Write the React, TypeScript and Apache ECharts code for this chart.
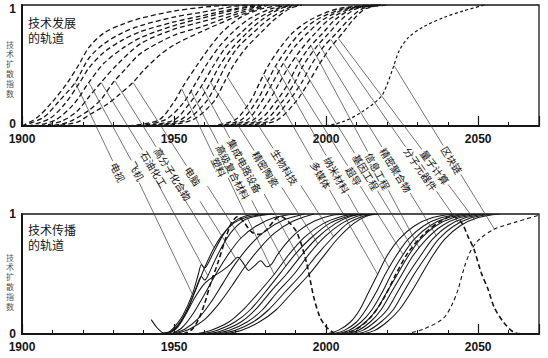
import { useEffect, useRef } from 'react';
import * as echarts from 'echarts';

type Pt = [number, number];

// ---------- axes ----------
const YEAR_MIN = 1900;
const YEAR_MAX = 2070;
const YEAR_LABELS = [1900, 1950, 2000, 2050];
const INDEX_LABELS = [0, 1];
const Y_NAME = ['技', '术', '扩', '散', '指', '数'];
const TOP_TITLE = ['技术发展', '的轨道'];
const BOTTOM_TITLE = ['技术传播', '的轨道'];

// ---------- 技术发展的轨道 (top, dashed) : [year, index] ----------
const devE1: Pt[] = [[1900, 0], [1905, 0.07], [1910, 0.2], [1915, 0.36], [1919, 0.52], [1922, 0.65], [1927, 0.77], [1933, 0.84], [1939, 0.89], [1950, 0.95], [1959, 0.98], [1968, 1]];
const devE2: Pt[] = [[1900, 0], [1907, 0.07], [1912, 0.2], [1917.5, 0.36], [1922, 0.56], [1927, 0.68], [1933, 0.77], [1939, 0.83], [1950, 0.9], [1959, 0.94], [1970, 0.99], [1976, 1]];
const devE3: Pt[] = [[1902, 0], [1909, 0.06], [1914, 0.18], [1919, 0.36], [1922, 0.48], [1927, 0.61], [1933, 0.71], [1939, 0.78], [1950, 0.86], [1959, 0.91], [1970, 0.97], [1978, 1]];
const devE4: Pt[] = [[1904, 0], [1911, 0.05], [1917, 0.18], [1922, 0.36], [1927, 0.52], [1933, 0.64], [1939, 0.73], [1950, 0.83], [1959, 0.89], [1970, 0.96], [1978, 1]];
const devE5: Pt[] = [[1906, 0], [1913, 0.04], [1918, 0.12], [1922, 0.24], [1926, 0.36], [1931, 0.5], [1939, 0.68], [1950, 0.8], [1959, 0.86], [1970, 0.94], [1979, 1]];
const devE6: Pt[] = [[1908, 0], [1915, 0.03], [1922, 0.13], [1926, 0.22], [1930, 0.36], [1934, 0.47], [1939, 0.6], [1950, 0.75], [1959, 0.82], [1970, 0.92], [1980, 1]];
const devE7: Pt[] = [[1910, 0], [1918, 0.03], [1922, 0.09], [1928, 0.18], [1932, 0.26], [1936.5, 0.36], [1940, 0.46], [1945, 0.58], [1950, 0.67], [1959, 0.78], [1970, 0.9], [1981, 1]];
const devM1: Pt[] = [[1935, 0], [1945, 0.05], [1950, 0.2], [1953, 0.33], [1957.5, 0.5], [1962, 0.66], [1966, 0.78], [1972, 0.9], [1979, 0.97], [1986, 1]];
const devM2: Pt[] = [[1938, 0], [1947, 0.05], [1953, 0.19], [1957, 0.35], [1960.5, 0.5], [1965, 0.66], [1969.5, 0.78], [1975, 0.89], [1982, 0.97], [1988, 1]];
const devM3: Pt[] = [[1940, 0], [1950, 0.05], [1955.5, 0.2], [1959.5, 0.35], [1963, 0.5], [1967, 0.65], [1972, 0.77], [1977, 0.88], [1984, 0.97], [1989, 1]];
const devM4: Pt[] = [[1942, 0], [1952, 0.05], [1958, 0.2], [1962, 0.36], [1965, 0.5], [1969, 0.64], [1974, 0.77], [1979, 0.88], [1985, 0.97], [1990, 1]];
const devM5: Pt[] = [[1944, 0], [1954, 0.05], [1960.5, 0.2], [1964, 0.35], [1967, 0.5], [1971, 0.65], [1976, 0.77], [1981, 0.88], [1987, 0.97], [1991, 1]];
const devM6: Pt[] = [[1946, 0], [1956, 0.05], [1963, 0.2], [1966.5, 0.36], [1969.5, 0.5], [1973.5, 0.64], [1978.5, 0.77], [1983, 0.88], [1988, 0.97], [1992, 1]];
const devL1: Pt[] = [[1962, 0], [1970, 0.05], [1975, 0.2], [1978, 0.35], [1981, 0.5], [1985, 0.65], [1989, 0.77], [1995, 0.88], [2004, 0.97], [2015, 1]];
const devL2: Pt[] = [[1964, 0], [1972, 0.05], [1977, 0.2], [1980.5, 0.36], [1983.5, 0.5], [1987.5, 0.65], [1991.5, 0.77], [1997, 0.88], [2006, 0.97], [2016, 1]];
const devL3: Pt[] = [[1966, 0], [1974, 0.05], [1979, 0.21], [1982.5, 0.36], [1985.5, 0.5], [1989.5, 0.65], [1994, 0.77], [1999, 0.88], [2007, 0.97], [2017, 1]];
const devL4: Pt[] = [[1968, 0], [1976, 0.05], [1981, 0.2], [1984.5, 0.35], [1988, 0.5], [1992, 0.64], [1996.5, 0.77], [2001, 0.88], [2008, 0.97], [2017, 1]];
const devL5: Pt[] = [[1970, 0], [1978, 0.05], [1983.5, 0.2], [1987.5, 0.35], [1990.5, 0.5], [1994.5, 0.65], [1999, 0.77], [2003, 0.88], [2009, 0.97], [2018, 1]];
const devL6: Pt[] = [[1972, 0], [1980, 0.05], [1985.5, 0.2], [1989.5, 0.35], [1992.5, 0.5], [1997, 0.66], [2001, 0.77], [2005, 0.88], [2010, 0.97], [2018, 1]];
const devL7: Pt[] = [[1974, 0], [1982, 0.05], [1987.5, 0.2], [1992, 0.36], [1995, 0.5], [1999, 0.65], [2003.5, 0.77], [2007.5, 0.88], [2012, 0.97], [2019, 1]];
const devL8: Pt[] = [[1976, 0], [1984, 0.05], [1990, 0.2], [1994, 0.35], [1997.5, 0.5], [2001.5, 0.65], [2005.5, 0.77], [2009, 0.88], [2013, 0.97], [2020, 1]];
const devBC: Pt[] = [[2000, 0], [2006, 0.04], [2012, 0.12], [2018, 0.24], [2020, 0.34], [2022, 0.48], [2024, 0.62], [2027, 0.73], [2032, 0.82], [2039, 0.9], [2045, 0.95], [2052, 1]];

// ---------- 技术传播的轨道 (bottom) : [year, index] ----------
const difE1: Pt[] = [[1942.5, 0.12], [1944.5, 0.05], [1946.5, 0.01], [1948.5, 0.02], [1950.5, 0.07], [1953, 0.16], [1956, 0.33], [1958, 0.5], [1959, 0.58], [1960, 0.55], [1961, 0.58], [1963, 0.68], [1966, 0.82], [1969, 0.92], [1973, 0.98], [1980, 1]];
const difE2: Pt[] = [[1947, 0], [1950, 0.04], [1953, 0.14], [1955.5, 0.27], [1957.5, 0.4], [1959, 0.48], [1960, 0.45], [1961, 0.48], [1963, 0.59], [1966, 0.74], [1969.5, 0.87], [1974, 0.96], [1982, 1]];
const difE3: Pt[] = [[1948, 0], [1951, 0.06], [1954, 0.18], [1957, 0.36], [1960, 0.55], [1963, 0.71], [1966, 0.83], [1970, 0.93], [1975, 0.98], [1983, 1]];
const difE4: Pt[] = [[1948, 0], [1951, 0.05], [1954, 0.17], [1957, 0.31], [1960, 0.42], [1963, 0.48], [1966, 0.53], [1968.5, 0.58], [1971, 0.64], [1973, 0.58], [1974.5, 0.53], [1976.5, 0.57], [1978.5, 0.61], [1980.5, 0.56], [1982, 0.58], [1984, 0.66], [1987, 0.76], [1991, 0.86], [1996, 0.94], [2002, 0.99], [2008, 1]];
const difE5: Pt[] = [[1949, 0], [1952.5, 0.05], [1956, 0.16], [1960, 0.33], [1964, 0.51], [1968, 0.67], [1972, 0.8], [1977, 0.9], [1983, 0.97], [1990, 1]];
const difE6: Pt[] = [[1949, 0], [1953.5, 0.04], [1958, 0.13], [1962, 0.26], [1966, 0.42], [1970, 0.58], [1975, 0.74], [1980, 0.86], [1986, 0.95], [1993, 1]];
const difE7: Pt[] = [[1950, 0], [1955, 0.04], [1960, 0.12], [1965, 0.26], [1969, 0.4], [1973, 0.55], [1978, 0.71], [1983, 0.84], [1989, 0.94], [1996, 1]];
const difBell1: Pt[] = [[1953, 0], [1956, 0.04], [1958, 0.12], [1960, 0.25], [1962, 0.42], [1964.5, 0.6], [1967, 0.8], [1969, 0.93], [1971, 0.98], [1973, 0.93], [1975.5, 0.85], [1978, 0.83], [1980.5, 0.87], [1983, 0.95], [1985, 0.98], [1987.5, 0.94], [1990.5, 0.84], [1993.5, 0.6], [1996, 0.3], [1998, 0.14], [2000, 0.06], [2003, 0]];
const difM1: Pt[] = [[1957, 0], [1962, 0.03], [1968, 0.1], [1973, 0.21], [1978, 0.35], [1983, 0.5], [1988, 0.67], [1993, 0.81], [1999, 0.92], [2005, 0.98], [2010, 1]];
const difM2: Pt[] = [[1959, 0], [1964, 0.03], [1970, 0.1], [1975, 0.2], [1980, 0.35], [1985, 0.51], [1990, 0.67], [1995, 0.8], [2001, 0.92], [2007, 0.98], [2012, 1]];
const difM3: Pt[] = [[1961, 0], [1966, 0.03], [1972, 0.1], [1977, 0.21], [1982, 0.36], [1987, 0.5], [1992, 0.66], [1997, 0.8], [2003, 0.92], [2008, 0.98], [2013, 1]];
const difM4: Pt[] = [[1962, 0], [1968, 0.03], [1974, 0.1], [1979, 0.2], [1984, 0.35], [1989.5, 0.5], [1994.5, 0.67], [1999.5, 0.81], [2005, 0.92], [2010, 0.98], [2015, 1]];
const difM5: Pt[] = [[1964, 0], [1970, 0.03], [1976, 0.1], [1981, 0.2], [1986.5, 0.35], [1992, 0.5], [1997, 0.66], [2002, 0.8], [2007, 0.92], [2012, 0.98], [2016, 1]];
const difM6: Pt[] = [[1966, 0], [1972, 0.03], [1978, 0.1], [1983.5, 0.2], [1989, 0.35], [1994.5, 0.5], [1999.5, 0.66], [2004, 0.8], [2009, 0.92], [2013, 0.98], [2017, 1]];
const difL1: Pt[] = [[2000, 0], [2004, 0.03], [2008, 0.1], [2011, 0.2], [2014, 0.35], [2017, 0.5], [2020, 0.65], [2024, 0.79], [2029, 0.9], [2035, 0.97], [2042, 1]];
const difL2: Pt[] = [[2002, 0], [2006, 0.03], [2010, 0.1], [2013, 0.2], [2016.5, 0.35], [2019.5, 0.5], [2023, 0.65], [2027, 0.79], [2032, 0.9], [2038, 0.97], [2045, 1]];
const difL3: Pt[] = [[2003, 0], [2007.5, 0.03], [2011.5, 0.1], [2015, 0.2], [2018.5, 0.35], [2021.5, 0.5], [2025, 0.65], [2029, 0.79], [2034, 0.9], [2040, 0.97], [2047, 1]];
const difL4: Pt[] = [[2005, 0], [2009, 0.03], [2013, 0.1], [2016.5, 0.2], [2020, 0.35], [2023.5, 0.5], [2027, 0.65], [2031, 0.79], [2036, 0.9], [2042, 0.97], [2049, 1]];
const difL5: Pt[] = [[2006, 0], [2010.5, 0.03], [2014.5, 0.1], [2018, 0.2], [2021.5, 0.35], [2025, 0.5], [2028.5, 0.65], [2033, 0.79], [2038, 0.9], [2044, 0.97], [2051, 1]];
const difL6: Pt[] = [[2008, 0], [2012, 0.03], [2016, 0.1], [2020, 0.2], [2023.5, 0.35], [2027, 0.5], [2031, 0.65], [2035, 0.79], [2040, 0.9], [2046, 0.97], [2053, 1]];
const difL7: Pt[] = [[2010, 0], [2014, 0.03], [2018, 0.1], [2022, 0.2], [2025.5, 0.35], [2029, 0.5], [2033, 0.65], [2037, 0.79], [2042, 0.9], [2048, 0.97], [2055, 1]];
const difL8: Pt[] = [[2012, 0], [2016, 0.03], [2020, 0.1], [2024, 0.2], [2028, 0.35], [2031.5, 0.5], [2035, 0.65], [2039, 0.79], [2044, 0.9], [2050, 0.97], [2057, 1]];
const difBell2: Pt[] = [[2005, 0], [2010, 0.04], [2015, 0.15], [2019, 0.3], [2023, 0.5], [2027, 0.68], [2032, 0.83], [2037, 0.93], [2041.5, 0.98], [2044.5, 0.93], [2046.7, 0.81], [2048.7, 0.7], [2051, 0.51], [2053.3, 0.37], [2055.3, 0.22], [2058.6, 0.09], [2062, 0.01], [2065, 0]];
const difBC: Pt[] = [[2026, 0], [2032, 0.04], [2038.5, 0.13], [2041.5, 0.25], [2043.5, 0.38], [2045.5, 0.56], [2047.5, 0.69], [2050, 0.78], [2055, 0.87], [2062, 0.93], [2070, 0.99]];

// ---------- technologies ----------
const TECH_NAMES = ['电视', '飞机', '石油化工', '高分子化合物', '电脑', '塑料', '高级复合材料', '集成电路设备', '精密陶瓷', '生物科技', '多媒体', '纳米材料', '超导', '基因工程', '信息工程', '精密聚合物', '分子元器件', '量子计算', '区块链'];
const TECH_DEV_CURVE = ['E2', 'E4', 'E5', 'E6', 'E7', 'M1', 'M2', 'M3', 'M4', 'M6', 'L1', 'L2', 'L3', 'L4', 'L5', 'L6', 'L7', 'L8', 'BC'];
const TECH_DEV_YEAR = [1917.5, 1922, 1926, 1930.5, 1936.5, 1952.5, 1955.5, 1959, 1962, 1967.5, 1979.5, 1983.4, 1986, 1990, 1995, 1997.6, 2001.5, 2004, 2022.3];
const TECH_DIF_CURVE = ['E1', 'E2', 'E3', 'E4', 'E5', 'M1', 'M2', 'M3', 'M4', 'M5', 'L1', 'L2', 'L3', 'L4', 'L5', 'L6', 'L7', 'L8', 'BC'];

// layout: label centres (px) in the gap, and sideways shift of the lower leader line (px)
const LABEL_CENTERS: Pt[] = [[118, 172], [137, 171], [154, 169], [173, 174], [193, 176], [219, 167], [233, 172], [245, 166], [266, 169], [285, 167], [321, 175], [337, 175], [354, 176], [366, 172], [378, 171], [396, 170], [421, 169], [435, 167], [452, 160]];
const LOWER_SHIFT = [16, 14, 12, 10, 8, 4, 4, 4, 4, 4, 0, 0, 0, 0, 0, 0, 0, 0, 0];

const devCurves: Record<string, Pt[]> = { E1: devE1, E2: devE2, E3: devE3, E4: devE4, E5: devE5, E6: devE6, E7: devE7, M1: devM1, M2: devM2, M3: devM3, M4: devM4, M5: devM5, M6: devM6, L1: devL1, L2: devL2, L3: devL3, L4: devL4, L5: devL5, L6: devL6, L7: devL7, L8: devL8, BC: devBC };
const difCurves: Record<string, Pt[]> = { E1: difE1, E2: difE2, E3: difE3, E4: difE4, E5: difE5, E6: difE6, E7: difE7, BELL1: difBell1, M1: difM1, M2: difM2, M3: difM3, M4: difM4, M5: difM5, M6: difM6, L1: difL1, L2: difL2, L3: difL3, L4: difL4, L5: difL5, L6: difL6, L7: difL7, L8: difL8, BELL2: difBell2, BC: difBC };

const INK = '#161616';
const CJK = '"Noto Sans CJK SC", "Noto Sans", sans-serif';
const LATIN = '"Liberation Sans", Arial, sans-serif';

function valueAt(data: Pt[], year: number): number {
  for (let i = 0; i < data.length - 1; i++) {
    const [x0, y0] = data[i];
    const [x1, y1] = data[i + 1];
    if (year >= x0 && year <= x1) return y0 + ((y1 - y0) * (year - x0)) / (x1 - x0);
  }
  return year < data[0][0] ? data[0][1] : data[data.length - 1][1];
}

function rayHit(px: number, py: number, dx: number, dy: number, pts: number[][], tMin: number): number[] | null {
  let best = Infinity;
  let hit: number[] | null = null;
  for (let i = 0; i < pts.length - 1; i++) {
    const [ax, ay] = pts[i];
    const [bx, by] = pts[i + 1];
    const ex = bx - ax;
    const ey = by - ay;
    const den = dx * ey - dy * ex;
    if (Math.abs(den) < 1e-9) continue;
    const t = ((ax - px) * ey - (ay - py) * ex) / den;
    const s = ((ax - px) * dy - (ay - py) * dx) / den;
    if (t > tMin && s >= 0 && s <= 1 && t < best) {
      best = t;
      hit = [px + t * dx, py + t * dy];
    }
  }
  return hit;
}

function xAxes(gridIndex: number) {
  return [
    {
      gridIndex,
      type: 'value',
      position: 'bottom',
      min: YEAR_MIN,
      max: YEAR_MAX,
      interval: 10,
      axisLine: { show: true, lineStyle: { color: INK, width: 2 } },
      axisTick: { show: true, inside: true, length: 4, lineStyle: { color: INK, width: 1 } },
      axisLabel: {
        show: true,
        margin: 7,
        showMaxLabel: false,
        formatter: (v: number) => (YEAR_LABELS.includes(v) ? String(v) : ''),
        fontSize: 12,
        fontWeight: 'bold',
        fontFamily: LATIN,
        color: INK,
      },
      splitLine: { show: false },
    },
    {
      gridIndex,
      type: 'value',
      position: 'bottom',
      min: YEAR_MIN,
      max: YEAR_MAX,
      interval: 50,
      axisLine: { show: false },
      axisTick: { show: true, inside: true, length: 10, lineStyle: { color: INK, width: 1.2 } },
      axisLabel: { show: false },
      splitLine: { show: false },
    },
  ];
}

function yAxis(gridIndex: number, shifted: boolean) {
  const base = { fontSize: 12, fontWeight: 'bold', fontFamily: LATIN, color: INK };
  return {
    gridIndex,
    type: 'value',
    min: 0,
    max: 1,
    interval: 1,
    axisLine: { show: true, lineStyle: { color: INK, width: 2 } },
    axisTick: { show: false },
    splitLine: { show: false },
    axisLabel: {
      margin: 6,
      ...base,
      formatter: (v: number) => (INDEX_LABELS.includes(v) ? (v === 1 ? '{hi|1}' : '{lo|0}') : ''),
      rich: shifted
        ? { hi: { ...base, padding: [8, 0, 0, 0] }, lo: { ...base, padding: [0, 0, 5, 0] } }
        : { hi: { ...base }, lo: { ...base } },
    },
  };
}

export default function App() {
  const ref = useRef<HTMLDivElement>(null);

  useEffect(() => {
    const el = ref.current;
    if (!el) return;
    const chart = echarts.init(el, undefined, { renderer: 'svg' });

    const series: any[] = [];
    const devIndex: Record<string, number> = {};
    const difIndex: Record<string, number> = {};
    Object.keys(devCurves).forEach((id) => {
      devIndex[id] = series.length;
      series.push({
        type: 'line',
        xAxisIndex: 0,
        yAxisIndex: 0,
        data: devCurves[id],
        symbol: 'none',
        smooth: 0.3,
        silent: true,
        z: 3,
        lineStyle: id === 'BC' ? { color: INK, width: 1.2, type: [3, 2.5] } : { color: INK, width: 1.3, type: [5, 3] },
      });
    });
    Object.keys(difCurves).forEach((id) => {
      difIndex[id] = series.length;
      let ls: any = { color: INK, width: 1.05, type: 'solid' };
      if (id === 'BELL1' || id === 'BELL2') ls = { color: INK, width: 1.6, type: [5, 3] };
      if (id === 'BC') ls = { color: INK, width: 1.1, type: [4, 3] };
      series.push({
        type: 'line',
        xAxisIndex: 2,
        yAxisIndex: 1,
        data: difCurves[id],
        symbol: 'none',
        smooth: 0.3,
        silent: true,
        z: 3,
        lineStyle: ls,
      });
    });

    const textStyle = (text: string, size: number, extra: any = {}) => ({
      text,
      fill: INK,
      fontSize: size,
      fontFamily: CJK,
      ...extra,
    });

    const staticGraphics: any[] = [];
    [[16, TOP_TITLE], [223, BOTTOM_TITLE]].forEach(([top0, lines]: any) => {
      (lines as string[]).forEach((line, k) => {
        staticGraphics.push({ type: 'text', left: 28, top: top0 + k * 15.5, silent: true, style: textStyle(line, 12) });
      });
    });
    [40, 253].forEach((top0) => {
      Y_NAME.forEach((ch, k) => {
        staticGraphics.push({
          type: 'text',
          left: 6,
          top: top0 + k * 9.8,
          silent: true,
          style: textStyle(ch, 8, { fill: '#555' }),
        });
      });
    });

    chart.setOption({
      animation: false,
      backgroundColor: '#fff',
      grid: [
        { left: 22, top: 5, width: 517, height: 121, show: true, borderColor: INK, borderWidth: 1.3, backgroundColor: 'transparent', outerBoundsMode: 'none' },
        { left: 22, top: 214, width: 517, height: 120, show: true, borderColor: INK, borderWidth: 1.3, backgroundColor: 'transparent', outerBoundsMode: 'none' },
      ],
      xAxis: [...xAxes(0), ...xAxes(1)],
      yAxis: [yAxis(0, true), yAxis(1, false)],
      series,
      graphic: staticGraphics,
    });

    // leader lines and rotated labels, placed from the curves through the axes
    const extra: any[] = [];
    TECH_NAMES.forEach((name, i) => {
      const devId = TECH_DEV_CURVE[i];
      const year = TECH_DEV_YEAR[i];
      const top = chart.convertToPixel({ seriesIndex: devIndex[devId] }, [year, valueAt(devCurves[devId], year)]) as number[];
      const [cx, cy] = LABEL_CENTERS[i];
      let dx = cx - top[0];
      let dy = cy - top[1];
      const len = Math.hypot(dx, dy);
      dx /= len;
      dy /= len;
      const half = (name.length * 10) / 2 + 2;
      const sx = cx + dx * half + LOWER_SHIFT[i];
      const sy = cy + dy * half;
      const difId = TECH_DIF_CURVE[i];
      const pts = difCurves[difId].map((p) => chart.convertToPixel({ seriesIndex: difIndex[difId] }, p) as number[]);
      const bottom = rayHit(sx, sy, dx, dy, pts, 2) || [sx + dx * 90, sy + dy * 90];
      const lineStyle = { stroke: '#3a3a3a', lineWidth: 0.7 };
      extra.push({
        type: 'line',
        silent: true,
        z: 5,
        shape: { x1: top[0], y1: top[1], x2: cx - dx * half, y2: cy - dy * half },
        style: lineStyle,
      });
      extra.push({
        type: 'line',
        silent: true,
        z: 5,
        shape: { x1: sx, y1: sy, x2: bottom[0], y2: bottom[1] },
        style: lineStyle,
      });
      extra.push({
        type: 'text',
        silent: true,
        z: 6,
        x: cx,
        y: cy,
        rotation: -Math.atan2(dy, dx),
        style: {
          text: name,
          fill: '#111',
          fontSize: 10,
          fontFamily: CJK,
          align: 'center',
          verticalAlign: 'middle',
          textAlign: 'center',
          textVerticalAlign: 'middle',
        },
      });
    });

    chart.setOption({ graphic: [...staticGraphics, ...extra] });

    return () => chart.dispose();
  }, []);

  return <div ref={ref} style={{ position: 'fixed', left: 0, top: 0, width: 548, height: 358, background: '#fff' }} />;
}
